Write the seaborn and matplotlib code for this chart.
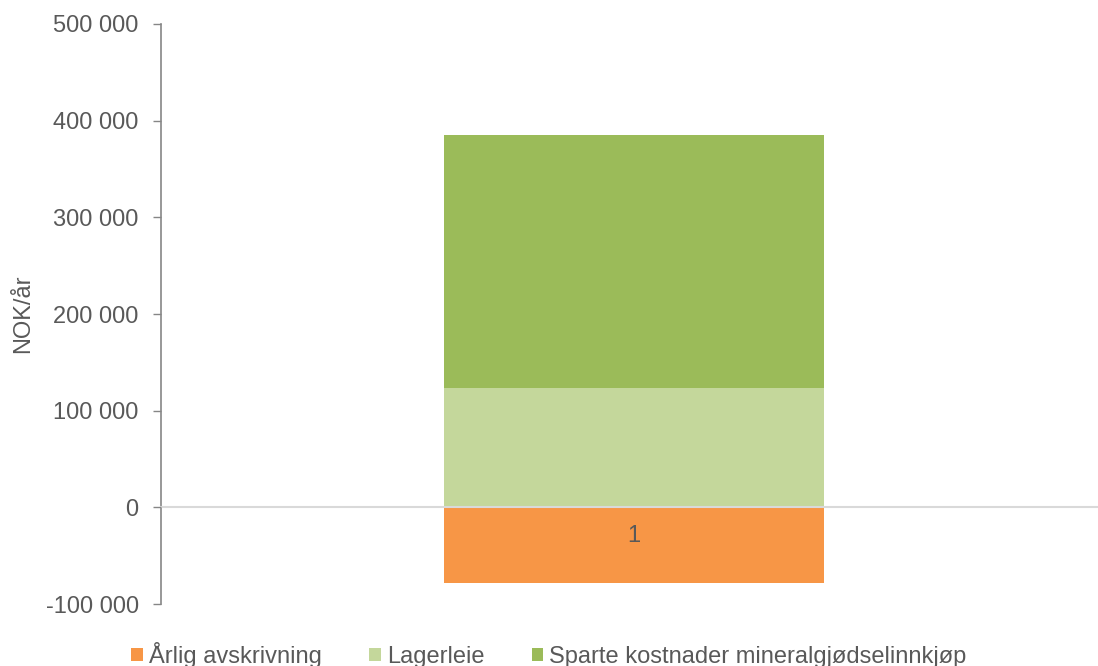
import numpy as np
import pandas as pd
import matplotlib
matplotlib.use("Agg")
import matplotlib.pyplot as plt
import matplotlib.ticker as mticker
from matplotlib.patches import Patch
import seaborn as sns

# data (NOK/år)
category = ["1"]
series = ["Årlig avskrivning", "Lagerleie", "Sparte kostnader mineralgjødselinnkjøp"]
arlig_avskrivning = [-78000]
lagerleie = [123000]
sparte_kostnader = [262000]
colors = ["#F79646", "#C4D79B", "#9BBB59"]
yticks = [-100000, 0, 100000, 200000, 300000, 400000, 500000]

sns.set_style("white")
plt.rcParams['font.family'] = ['Liberation Sans', 'DejaVu Sans']
text_col = "#595959"

df = pd.DataFrame({"cat": category,
                   series[0]: arlig_avskrivning,
                   series[1]: lagerleie,
                   series[2]: sparte_kostnader})

fig = plt.figure(figsize=(10.98, 6.66), dpi=100)
ax = fig.add_axes([0.1466, 0.093, 0.8534, 0.871])

# stack: negatives go down from 0, positives stack upwards
pos_bottom = np.zeros(len(df))
neg_bottom = np.zeros(len(df))
for name, col in zip(series, colors):
    vals = df[name].to_numpy(dtype=float)
    bottom = np.where(vals >= 0, pos_bottom, neg_bottom)
    sns.barplot(x=df["cat"], y=vals, bottom=bottom, color=col, width=0.405,
                saturation=1, linewidth=0, ax=ax)
    pos_bottom = pos_bottom + np.clip(vals, 0, None)
    neg_bottom = neg_bottom + np.clip(vals, None, 0)

ax.set_ylim(-100000, 500000)
ax.set_xlim(-0.505, 0.495)
ax.set_yticks(yticks)
ax.yaxis.set_major_formatter(mticker.FuncFormatter(lambda v, p: f"{v:,.0f}".replace(",", " ")))
ax.set_axisbelow(False)  # zero line and category label sit on top of the bars

for s in ["top", "right"]:
    ax.spines[s].set_visible(False)
ax.spines["left"].set_color("#868686")
ax.spines["left"].set_linewidth(1.2)
ax.spines["bottom"].set_position(("data", 0))
ax.spines["bottom"].set_color("#D9D9D9")
ax.spines["bottom"].set_linewidth(1.5)

ax.tick_params(axis="y", which="major", direction="out", length=6, width=1,
               color="#868686", labelsize=17, labelcolor=text_col, pad=10, left=True)
ax.tick_params(axis="x", length=0, labelsize=17, labelcolor=text_col, pad=13)

ax.set_xlabel("")
ax.set_ylabel("NOK/år", fontsize=17, color=text_col, labelpad=8)

handles = [Patch(facecolor=c, edgecolor="none") for c in colors]
fig.legend(handles, series, loc="lower center", bbox_to_anchor=(0.5, -0.035), ncol=3,
           frameon=False, fontsize=17, labelcolor=text_col, handlelength=0.5,
           handleheight=0.5, handletextpad=0.25, columnspacing=2.0)

fig.savefig("out.png", dpi=100)
